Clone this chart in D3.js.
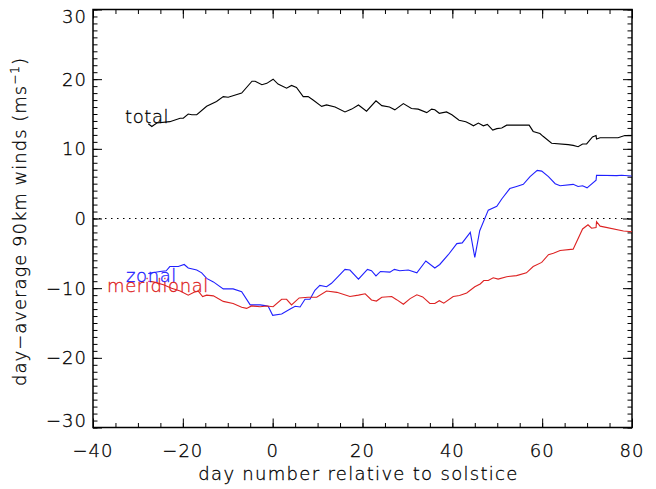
<!DOCTYPE html>
<html>
<head>
<meta charset="utf-8">
<script src="https://cdn.jsdelivr.net/npm/d3@7"></script>
<style>
  body { margin: 0; background: #fff; }
  svg text { font-family: "DejaVu Sans", sans-serif; font-weight: 200; stroke-width: 0.3px; }
</style>
</head>
<body>
<svg width="656" height="489"></svg>
<script>
// day relative to solstice, wind (m/s)
var totalData = [[-27.7,13.6],[-26.9,13.2],[-25.8,13.7],[-22.9,13.9],[-20.6,14.4],[-19.9,14.4],[-18.8,15.0],[-18.0,14.9],[-16.9,14.9],
  [-14.7,16.1],[-12.5,16.8],[-11.0,17.5],[-9.9,17.4],[-6.9,18.0],[-4.6,19.7],[-3.9,19.7],[-2.4,19.2],[-1.3,19.4],[0.1,20.0],
  [1.2,19.3],[3.1,18.7],[4.2,19.1],[5.3,18.8],[6.8,17.5],[7.9,17.5],[9.0,17.0],[10.9,16.1],[12.0,16.3],[13.9,16.0],[16.1,15.3],
  [17.6,15.7],[19.1,16.3],[20.9,15.4],[23.0,16.9],[24.3,16.2],[26.0,16.0],[27.2,15.6],[29.1,16.5],[30.9,15.8],[32.4,15.7],
  [34.3,15.2],[35.4,15.7],[36.1,15.6],[37.1,15.1],[38.7,15.3],[39.9,14.9],[41.5,14.1],[43.0,13.9],[43.9,13.6],[44.7,13.3],
  [45.8,13.7],[46.9,13.3],[47.8,13.5],[49.0,12.7],[49.9,12.9],[51.0,13.0],[52.1,13.4],[57.1,13.4],[58.0,12.5],[59.5,12.2],
  [60.2,11.8],[62.1,10.8],[65.8,10.6],[66.9,10.5],[68.0,10.3],[69.0,10.7],[69.9,10.7],[71.2,11.7],[72.0,11.9],[72.1,11.4],
  [72.9,11.6],[76.9,11.6],[78.4,11.9],[79.9,11.9]];

var zonalData = [[-27.7,-7.9],[-25.1,-7.6],[-23.7,-7.5],[-22.9,-6.9],[-21.0,-6.9],[-19.7,-6.6],[-18.8,-7.1],[-16.9,-7.4],[-15.8,-7.8],
  [-14.7,-8.6],[-13.2,-9.1],[-11.0,-10.1],[-8.8,-10.1],[-6.9,-10.5],[-5.0,-12.4],[-2.8,-12.4],[-1.7,-12.5],[-1.0,-12.6],[0.0,-13.9],
  [2.0,-13.7],[3.9,-13.0],[5.0,-12.6],[6.1,-12.7],[7.2,-11.6],[8.3,-11.6],[9.4,-10.3],[10.5,-9.6],[12.0,-9.8],[13.1,-9.3],
  [14.6,-8.3],[16.1,-7.3],[17.2,-7.4],[19.1,-8.7],[21.1,-7.3],[22.0,-7.5],[23.0,-8.25],[24.0,-7.6],[26.1,-7.7],[27.1,-7.3],
  [28.3,-7.5],[30.2,-7.4],[32.1,-7.8],[34.1,-6.1],[36.1,-7.1],[37.2,-6.6],[39.1,-5.2],[41.0,-3.6],[42.2,-3.5],[44.0,-2.0],
  [45.0,-5.6],[46.1,-1.75],[48.0,1.2],[49.9,1.75],[51.0,2.8],[52.8,4.3],[54.3,4.6],[55.8,4.9],[57.3,6.0],[58.9,6.9],[59.9,6.8],
  [61.4,6.0],[62.9,5.0],[64.0,4.7],[66.9,4.9],[68.0,4.6],[69.0,4.7],[70.0,4.4],[72.0,5.5],[72.1,6.2],[76.6,6.15],[77.7,6.2],[79.9,6.1]];

var meridionalData = [[-27.7,-9.0],[-26.6,-9.1],[-24.3,-9.5],[-22.5,-10.0],[-20.6,-10.4],[-18.8,-11.0],[-17.5,-10.6],[-16.6,-10.4],
  [-15.6,-11.2],[-14.7,-11.0],[-13.2,-11.1],[-11.0,-11.9],[-8.8,-12.2],[-6.9,-12.75],[-5.8,-12.9],[-4.7,-12.55],[-2.8,-12.66],
  [-1.3,-12.55],[0.1,-12.66],[2.0,-11.6],[3.1,-11.6],[4.2,-12.4],[5.9,-11.4],[7.9,-11.3],[9.8,-11.3],[12.0,-10.4],[14.3,-10.6],
  [17.2,-11.2],[19.1,-11.0],[20.6,-10.8],[22.0,-11.7],[23.1,-11.85],[24.3,-11.3],[26.5,-11.2],[27.6,-11.65],[29.1,-12.3],
  [30.6,-11.5],[32.1,-10.95],[33.4,-11.25],[35.0,-12.2],[36.1,-12.2],[37.1,-11.8],[38.1,-12.15],[40.2,-11.2],[41.6,-11.05],
  [43.2,-10.7],[45.0,-9.8],[46.2,-9.4],[47.0,-8.9],[48.0,-8.9],[49.1,-8.5],[50.2,-8.7],[52.1,-8.35],[54.3,-8.2],[56.5,-7.8],
  [58.0,-6.9],[59.9,-6.3],[61.4,-5.2],[62.5,-5.0],[64.0,-4.6],[66.9,-4.4],[69.0,-1.5],[70.2,-0.9],[71.0,-1.4],[72.0,-1.3],
  [72.1,-0.45],[72.9,-1.1],[78.1,-1.8],[80.0,-1.9]];

var xTicks = [-40, -20, 0, 20, 40, 60, 80];
var yTicks = [-30, -20, -10, 0, 10, 20, 30];

(function() {
  var svg = d3.select("svg"),
    pLeft = 93, pRight = 632, pTop = 9.5, pBottom = 427.5;

  var x = d3.scaleLinear().domain([-40, 80]).range([pLeft, pRight]);
  var y = d3.scaleLinear().domain([-30, 30]).range([pBottom, pTop]);

  function fmt(v) { return v < 0 ? "\u2212" + Math.abs(v) : "" + v; }

  // ticks on all four sides, pointing inward
  function ticks(axis, tr) {
    var g = svg.append("g").attr("transform", tr).call(axis);
    g.select(".domain").remove();
    g.selectAll("line").attr("stroke", "#000").attr("stroke-width", 1);
    g.selectAll("text").remove();
    return g;
  }
  var minorX = d3.range(-40, 81, 5), minorY = d3.range(-30, 31, 1);
  ticks(d3.axisBottom(x).tickValues(xTicks).tickSize(-9), "translate(0," + pBottom + ")");
  ticks(d3.axisBottom(x).tickValues(minorX).tickSize(-4.5), "translate(0," + pBottom + ")");
  ticks(d3.axisTop(x).tickValues(xTicks).tickSize(-9), "translate(0," + pTop + ")");
  ticks(d3.axisTop(x).tickValues(minorX).tickSize(-4.5), "translate(0," + pTop + ")");
  ticks(d3.axisLeft(y).tickValues(yTicks).tickSize(-9), "translate(" + pLeft + ",0)");
  ticks(d3.axisLeft(y).tickValues(minorY).tickSize(-4.5), "translate(" + pLeft + ",0)");
  ticks(d3.axisRight(y).tickValues(yTicks).tickSize(-9), "translate(" + pRight + ",0)");
  ticks(d3.axisRight(y).tickValues(minorY).tickSize(-4.5), "translate(" + pRight + ",0)");

  svg.append("rect")
    .attr("x", pLeft).attr("y", pTop)
    .attr("width", pRight - pLeft).attr("height", pBottom - pTop)
    .attr("fill", "none").attr("stroke", "#000").attr("stroke-width", 1.5);

  // tick labels
  svg.selectAll(".xl").data(xTicks).enter().append("text")
    .attr("x", function(d) { return x(d); })
    .attr("y", 457)
    .attr("text-anchor", "middle")
    .attr("font-size", 18)
    .attr("letter-spacing", 1)
    .attr("fill", "#000").attr("stroke", "#000")
    .text(fmt);

  svg.selectAll(".yl").data(yTicks).enter().append("text")
    .attr("x", pLeft - 6)
    .attr("y", function(d) { return Math.max(17, Math.min(421, y(d))); })
    .attr("dy", "0.36em")
    .attr("text-anchor", "end")
    .attr("font-size", 18)
    .attr("letter-spacing", 1)
    .attr("fill", "#000").attr("stroke", "#000")
    .text(fmt);

  svg.append("text")
    .attr("x", (pLeft + pRight) / 2 - 4).attr("y", 480)
    .attr("text-anchor", "middle").attr("font-size", 18)
    .attr("letter-spacing", 1.3)
    .attr("fill", "#000").attr("stroke", "#000")
    .text("day number relative to solstice");

  svg.append("text")
    .attr("transform", "translate(26," + ((pTop + pBottom) / 2 + 3) + ") rotate(-90)")
    .attr("text-anchor", "middle").attr("font-size", 18)
    .attr("letter-spacing", 1)
    .attr("fill", "#000").attr("stroke", "#000")
    .html("day\u2212average 90km winds (ms<tspan dy='-7' font-size='12'>\u22121</tspan><tspan dy='7'>)</tspan>");

  // zero line
  svg.append("line")
    .attr("x1", pLeft).attr("x2", pRight)
    .attr("y1", y(0)).attr("y2", y(0))
    .attr("stroke", "#000").attr("stroke-dasharray", "1.5,4.5");

  var line = d3.line().x(function(d) { return x(d[0]); }).y(function(d) { return y(d[1]); });

  var series = [
    { name: "total", data: totalData, color: "#000000", lx: 125, ly: 123 },
    { name: "zonal", data: zonalData, color: "#2020ff", lx: 126, ly: 282 },
    { name: "meridional", data: meridionalData, color: "#dd2222", lx: 107, ly: 292 }
  ];

  svg.selectAll(".series").data(series).enter().append("path")
    .attr("d", function(d) { return line(d.data); })
    .attr("fill", "none")
    .attr("stroke", function(d) { return d.color; })
    .attr("stroke-width", 1.1);

  svg.selectAll(".lab").data(series).enter().append("text")
    .attr("x", function(d) { return d.lx; })
    .attr("y", function(d) { return d.ly; })
    .attr("font-size", 18)
    .attr("letter-spacing", 0.6)
    .attr("fill", function(d) { return d.color; })
    .attr("stroke", function(d) { return d.color; })
    .text(function(d) { return d.name; });
})();
</script>
</body>
</html>
